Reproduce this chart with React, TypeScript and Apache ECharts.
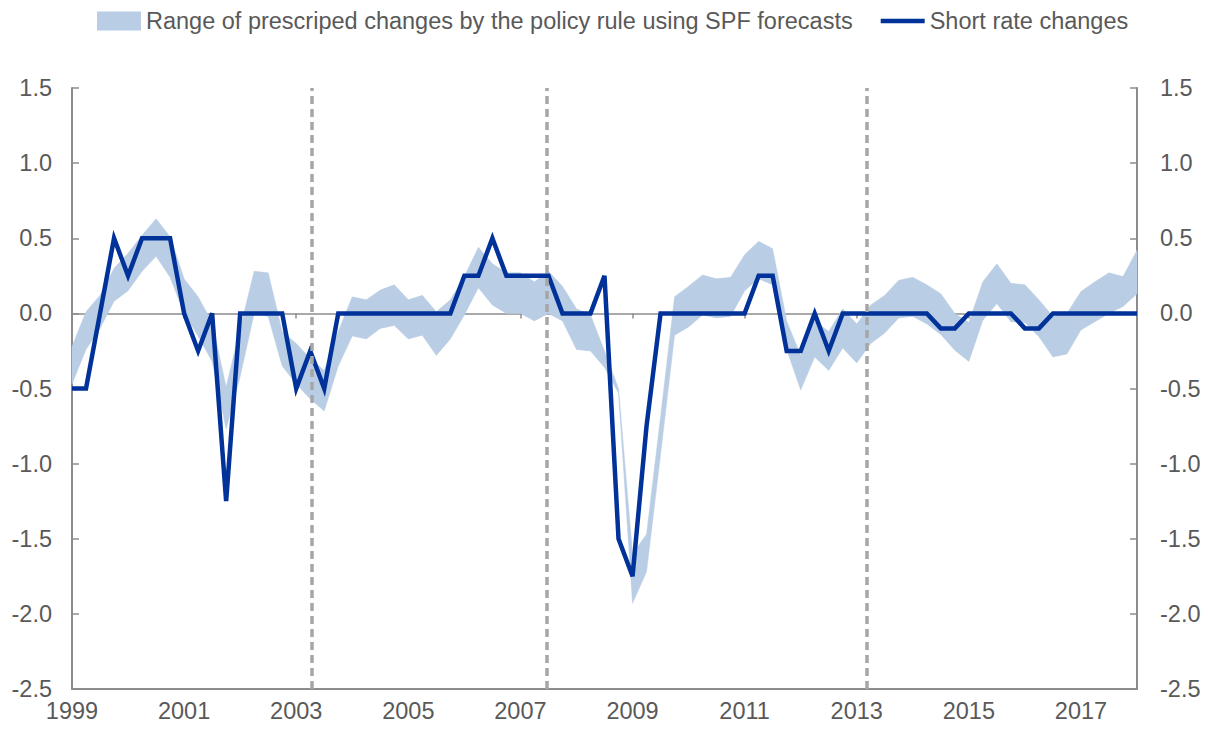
import React, { useEffect, useRef } from "react";
import * as echarts from "echarts";

// Quarterly observations, 1999Q1 .. 2018Q1
const startYear = 1999;
const shortRateChanges = [
  -0.5, -0.5, 0, 0.5, 0.25, 0.5, 0.5, 0.5, 0, -0.25, 0, -1.25, 0, 0, 0, 0, -0.5, -0.25, -0.5,
  0, 0, 0, 0, 0, 0, 0, 0, 0,
  0.25, 0.25, 0.5, 0.25, 0.25, 0.25, 0.25,
  0, 0, 0, 0.25, -1.5, -1.75, -0.75,
  0, 0, 0, 0, 0, 0, 0,
  0.25, 0.25, -0.25, -0.25, 0, -0.25, 0,
  0, 0, 0, 0, 0, 0, -0.1, -0.1, 0, 0, 0, 0, -0.1, -0.1,
  0, 0, 0, 0, 0, 0, 0,
];
const ruleUpper = [
  -0.22, 0.01, 0.12, 0.3, 0.4, 0.52, 0.63, 0.51, 0.23, 0.11, -0.06, -0.49, -0.1, 0.28, 0.27, -0.12, -0.2, -0.3, -0.38,
  -0.12, 0.11, 0.09, 0.155, 0.19, 0.09, 0.12, 0.01, 0.09,
  0.245, 0.44, 0.33, 0.27, 0.27, 0.21, 0.28,
  0.18, 0.03, -0.01, -0.25, -0.5, -1.6, -1.47,
  -0.69, 0.11, 0.18, 0.255, 0.23, 0.24, 0.39,
  0.48, 0.43, -0.05, -0.28, -0.05, -0.12, 0.03,
  -0.07, 0.055, 0.12, 0.22, 0.24, 0.19, 0.13, 0.0, -0.06, 0.21, 0.33, 0.2, 0.19, 0.09,
  -0.02, 0.0, 0.145, 0.21, 0.27, 0.245, 0.42,
];
const ruleLower = [
  -0.47, -0.24, -0.1, 0.08, 0.15, 0.28, 0.38, 0.24, 0.0, -0.15, -0.32, -0.77, -0.42, 0.0, -0.02, -0.35, -0.47, -0.57, -0.65,
  -0.35, -0.15, -0.17, -0.1, -0.08, -0.17, -0.145, -0.28, -0.17,
  -0.01, 0.17, 0.055, 0.0, 0.0, -0.05, 0.0,
  -0.05, -0.24, -0.25, -0.36, -0.53, -1.93, -1.72,
  -0.94, -0.145, -0.09, -0.01, -0.03, -0.02, 0.15,
  0.23, 0.19, -0.24, -0.51, -0.29, -0.38, -0.23,
  -0.33, -0.2, -0.13, -0.03, -0.02, -0.07, -0.14, -0.245, -0.32, -0.045, 0.065, -0.055, -0.06, -0.155,
  -0.29, -0.27, -0.11, -0.055, 0.0, 0.045, 0.13,
];
const tickYears = [1999, 2001, 2003, 2005, 2007, 2009, 2011, 2013, 2015, 2017];
const eventDates = [2003.28, 2007.47, 2013.17];

const bandName = "Range of prescriped changes by the policy rule using SPF forecasts";
const lineName = "Short rate changes";

const FONT = "'Liberation Sans', Arial, sans-serif";
const TEXT = "#595959";
const AXIS = "#8c8c8c";
const BAND = "#b9cde5";
const LINE = "#003299";
const FS = 23.5;

export default function App() {
  const ref = useRef<HTMLDivElement>(null);
  useEffect(() => {
    document.body.style.margin = "0";
    if (!ref.current) return;
    const chart = echarts.init(ref.current, undefined, { renderer: "svg" });
    const xOf = (i: number) => startYear + i / 4;
    const bandData = ruleUpper.map((v, i) => [xOf(i), ruleLower[i], v]);
    const lineData = shortRateChanges.map((v, i) => [xOf(i), v]);
    const xMax = xOf(shortRateChanges.length - 1);

    const yAxisMain = (pos: "left" | "right", margin: number) => ({
      type: "value",
      position: pos,
      min: -2.5,
      max: 1.5,
      interval: 0.5,
      axisLine: { show: true, onZero: false, lineStyle: { color: AXIS, width: 2 } },
      axisTick: { show: false },
      axisLabel: {
        color: TEXT,
        fontSize: FS,
        fontFamily: FONT,
        margin,
        formatter: (v: number) => v.toFixed(1),
      },
      splitLine: { show: false },
    });
    // tick-only axes pulled inside the plot so that the ticks point inward
    const yAxisTicks = (pos: "left" | "right") => ({
      type: "value",
      position: pos,
      offset: -7,
      min: -2.5,
      max: 1.5,
      interval: 0.5,
      axisLine: { show: false, onZero: false },
      axisTick: { show: true, length: 7, lineStyle: { color: AXIS, width: 1.5 } },
      axisLabel: { show: false },
      splitLine: { show: false },
    });

    chart.setOption({
      animation: false,
      textStyle: { fontFamily: FONT },
      grid: { left: 72, right: 71, top: 88, bottom: 44, containLabel: false },
      legend: {
        top: 4,
        left: 92,
        itemWidth: 44,
        itemHeight: 19,
        itemGap: 28,
        textStyle: { color: TEXT, fontSize: FS, fontFamily: FONT },
        data: [
          { name: bandName, icon: "rect", itemStyle: { color: BAND } },
          { name: lineName, icon: "path://M0 0H44V4.5H0Z", itemStyle: { color: LINE } },
        ],
      },
      xAxis: [
        {
          type: "value",
          position: "bottom",
          min: startYear,
          max: xMax,
          axisLine: { show: true, onZero: false, lineStyle: { color: AXIS, width: 2 } },
          axisTick: { show: false },
          axisLabel: {
            customValues: tickYears,
            color: TEXT,
            fontSize: FS,
            fontFamily: FONT,
            margin: 10,
            formatter: (v: number) => String(Math.round(v)),
          },
          splitLine: { show: false },
        },
        {
          type: "value",
          position: "bottom",
          min: startYear,
          max: xMax,
          axisLine: { show: true, onZero: true, lineStyle: { color: AXIS, width: 1.5 } },
          axisTick: { show: true, customValues: tickYears, length: 5, lineStyle: { color: AXIS, width: 1.5 } },
          axisLabel: { show: false },
          splitLine: { show: false },
        },
      ],
      yAxis: [yAxisMain("left", 20), yAxisMain("right", 23), yAxisTicks("left"), yAxisTicks("right")],
      series: [
        {
          name: bandName,
          type: "custom",
          xAxisIndex: 0,
          yAxisIndex: 0,
          data: bandData,
          encode: { x: 0, y: [1, 2] },
          silent: true,
          itemStyle: { color: BAND },
          z: 1,
          renderItem: (params: any, api: any) => {
            if (params.dataIndex !== 0) return null;
            const top = bandData.map((d) => api.coord([d[0], d[2]]));
            const bottom = bandData.map((d) => api.coord([d[0], d[1]])).reverse();
            return {
              type: "polygon",
              shape: { points: top.concat(bottom) },
              style: { fill: BAND, stroke: BAND, lineWidth: 0.5 },
            };
          },
        },
        {
          name: lineName,
          type: "line",
          xAxisIndex: 0,
          yAxisIndex: 0,
          data: lineData,
          symbol: "none",
          showSymbol: false,
          itemStyle: { color: LINE },
          lineStyle: { color: LINE, width: 4.5, join: "miter" },
          z: 3,
          markLine: {
            silent: true,
            symbol: "none",
            label: { show: false },
            lineStyle: { color: "#a6a6a6", width: 3.5, type: [8, 5] },
            data: eventDates.map((d) => ({ xAxis: d })),
          },
        },
      ],
    });
    return () => chart.dispose();
  }, []);
  return <div ref={ref} style={{ width: 1208, height: 733 }} />;
}
